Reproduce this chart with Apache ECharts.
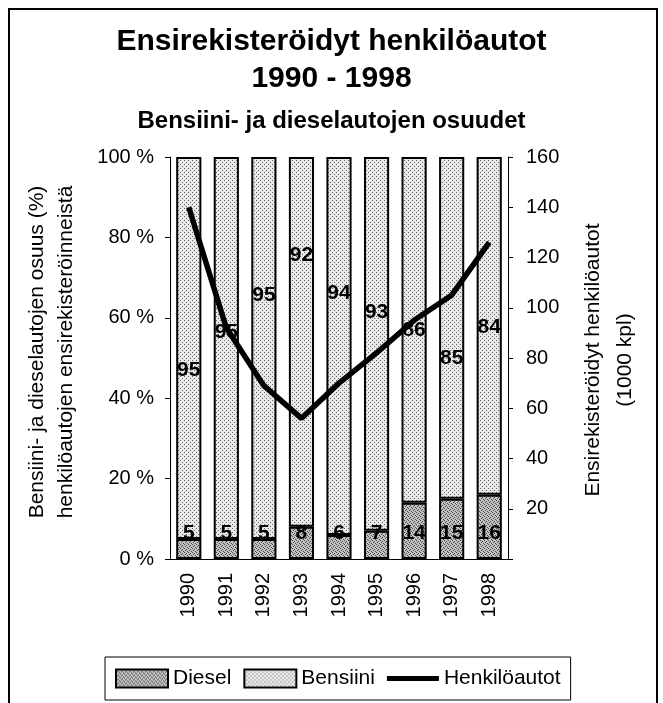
<!DOCTYPE html>
<html>
<head>
<meta charset="utf-8">
<script src="https://cdn.jsdelivr.net/npm/echarts@6/dist/echarts.min.js"></script>
<style>
  html, body { margin: 0; padding: 0; background: #fff; }
  #chart { width: 663px; height: 703px; }
</style>
</head>
<body>
<div id="chart"></div>
<script>
// data
const years = ["1990", "1991", "1992", "1993", "1994", "1995", "1996", "1997", "1998"];
const dieselShare = [5, 5, 5, 8, 6, 7, 14, 15, 16];
const bensiiniShare = [95, 95, 95, 92, 94, 93, 86, 85, 84];
const newCars = [140, 92, 69, 56, 70, 82, 95, 105, 126];
// where the bensiini value labels sit (in % of the left axis)
const bensiiniLabelAt = [47, 56.5, 65.7, 75.6, 66.2, 61.4, 57, 50, 57.7];
const pctTicks = [0, 20, 40, 60, 80, 100];

const FONT = "'Liberation Sans', Arial, sans-serif";

// small dotted fill, like the scanned raster
function stipple(base, dot, pts) {
  const c = document.createElement("canvas");
  c.width = 4;
  c.height = 4;
  const g = c.getContext("2d");
  g.fillStyle = base;
  g.fillRect(0, 0, 4, 4);
  g.fillStyle = dot;
  pts.forEach(p => g.fillRect(p[0], p[1], 1, 1));
  return c;
}
const dieselFill = { image: stipple("#c2c2c2", "#474747", [[0, 0], [2, 1], [1, 2], [3, 3]]), repeat: "repeat" };
const bensiiniFill = { image: stipple("#e8e8e8", "#666666", [[0, 0], [2, 2]]), repeat: "repeat" };

const chart = echarts.init(document.getElementById("chart"));

const option = {
  backgroundColor: "#fff",
  animation: false,
  textStyle: { fontFamily: FONT, color: "#000" },
  title: [
    {
      text: "Ensirekisteröidyt henkilöautot\n1990 - 1998",
      left: "center",
      top: 18,
      textStyle: { fontFamily: FONT, fontSize: 30, fontWeight: "bold", color: "#000", lineHeight: 37 },
    },
    {
      text: "Bensiini- ja dieselautojen osuudet",
      left: "center",
      top: 102,
      textStyle: { fontFamily: FONT, fontSize: 24, fontWeight: "bold", color: "#000", lineHeight: 28 },
    },
  ],
  grid: { left: 170, right: 155, top: 157, bottom: 144 },
  legend: {
    data: [
      { name: "Diesel", icon: "rect" },
      { name: "Bensiini", icon: "rect" },
      { name: "Henkilöautot", icon: "path://M0,0 L60,0 L60,6 L0,6 Z", itemStyle: { color: "#000", borderWidth: 0 } },
    ],
    left: 105,
    top: 657,
    itemWidth: 52,
    itemHeight: 18,
    itemGap: 12,
    padding: [11, 10],
    borderColor: "#000",
    borderWidth: 1,
    textStyle: { fontFamily: FONT, fontSize: 21, color: "#000" },
  },
  xAxis: {
    type: "category",
    data: years,
    axisLine: { lineStyle: { color: "#000", width: 1 } },
    axisTick: { length: 5, lineStyle: { color: "#000" } },
    axisLabel: { rotate: 90, margin: 14, fontFamily: FONT, fontSize: 20, color: "#000" },
  },
  yAxis: [
    {
      type: "value",
      min: pctTicks[0],
      max: pctTicks[pctTicks.length - 1],
      interval: 20,
      splitLine: { show: false },
      axisLine: { show: true, lineStyle: { color: "#000" } },
      axisTick: { show: true, length: 5, lineStyle: { color: "#000" } },
      axisLabel: { margin: 16, fontFamily: FONT, fontSize: 20, color: "#000", formatter: v => v + " %" },
    },
    {
      type: "value",
      min: 0,
      max: 160,
      interval: 20,
      position: "right",
      splitLine: { show: false },
      axisLine: { show: true, lineStyle: { color: "#000" } },
      axisTick: { show: true, length: 5, lineStyle: { color: "#000" } },
      axisLabel: { margin: 18, fontFamily: FONT, fontSize: 20, color: "#000", formatter: v => (v === 0 ? "" : String(v)) },
    },
  ],
  series: [
    {
      name: "Diesel",
      type: "bar",
      stack: "share",
      data: dieselShare,
      barCategoryGap: "33%",
      z: 1,
      itemStyle: { color: dieselFill, borderColor: "#000", borderWidth: 2 },
      label: {
        show: true,
        position: "insideBottom",
        distance: 15,
        fontFamily: FONT,
        fontSize: 21,
        fontWeight: "bold",
        color: "#000",
      },
    },
    {
      name: "Bensiini",
      type: "bar",
      stack: "share",
      data: bensiiniShare,
      z: 1,
      itemStyle: { color: bensiiniFill, borderColor: "#000", borderWidth: 2 },
    },
    {
      name: "bensiiniLabels",
      type: "scatter",
      data: bensiiniLabelAt,
      symbolSize: 0,
      z: 2,
      itemStyle: { color: "#000", opacity: 1 },
      label: {
        show: true,
        position: "inside",
        fontFamily: FONT,
        fontSize: 21,
        fontWeight: "bold",
        color: "#000",
        opacity: 1,
        textBorderWidth: 0,
        formatter: p => String(bensiiniShare[p.dataIndex]),
      },
    },
    {
      name: "Henkilöautot",
      type: "line",
      yAxisIndex: 1,
      data: newCars,
      symbol: "none",
      z: 5,
      lineStyle: { color: "#000", width: 5.5 },
      itemStyle: { color: "#000" },
    },
  ],
  graphic: [
    {
      type: "rect",
      shape: { x: 9, y: 9, width: 648, height: 720 },
      style: { fill: "none", stroke: "#000", lineWidth: 2 },
      silent: true,
    },
    {
      type: "text",
      x: 52,
      y: 352,
      rotation: Math.PI / 2,
      style: {
        text: "Bensiini- ja dieselautojen osuus (%)\nhenkilöautojen ensirekisteröinneistä",
        fontFamily: FONT,
        fontSize: 21,
        lineHeight: 29,
        fill: "#000",
        textAlign: "center",
        textVerticalAlign: "middle",
      },
    },
    {
      type: "text",
      x: 609,
      y: 360,
      rotation: Math.PI / 2,
      style: {
        text: "Ensirekisteröidyt henkilöautot\n(1000 kpl)",
        fontFamily: FONT,
        fontSize: 21,
        lineHeight: 32,
        fill: "#000",
        textAlign: "center",
        textVerticalAlign: "middle",
      },
    },
  ],
};

chart.setOption(option);
</script>
</body>
</html>
